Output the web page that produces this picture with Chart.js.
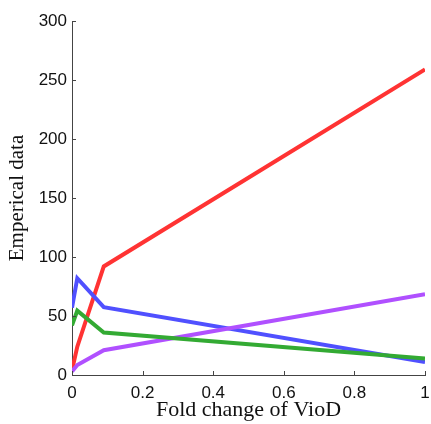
<!DOCTYPE html>
<html>
<head>
<meta charset="utf-8">
<script src="https://cdn.jsdelivr.net/npm/chart.js@4.4.0/dist/chart.umd.min.js"></script>
<style>
  html, body { margin: 0; padding: 0; background: #fff; }
  #wrap { width: 431px; height: 424px; }
</style>
</head>
<body>
<div id="wrap"><canvas id="myChart"></canvas></div>
<script>
// data
const foldChange = [0, 0.015, 0.09, 1];
const redVals = [4, 24, 92, 259];
const blueVals = [57, 82, 57.5, 11];
const greenVals = [42, 54.5, 36, 14];
const purpleVals = [3, 8.5, 21, 68.5];
const xTicks = [0, 0.2, 0.4, 0.6, 0.8, 1];
const yTicks = [0, 50, 100, 150, 200, 250, 300];

function pts(vals) {
  return foldChange.map((x, i) => ({ x: x, y: vals[i] }));
}

function series(vals, color) {
  return {
    data: pts(vals),
    borderColor: color,
    backgroundColor: color,
    borderWidth: 4,
    pointRadius: 0,
    tension: 0
  };
}

// small ticks pointing into the plot, like the original
const innerTicks = {
  id: 'innerTicks',
  afterDraw(chart) {
    const ctx = chart.ctx;
    const x = chart.scales.x, y = chart.scales.y;
    ctx.save();
    ctx.strokeStyle = '#444';
    ctx.lineWidth = 1;
    ctx.beginPath();
    xTicks.forEach(v => {
      const px = Math.round(x.getPixelForValue(v)) + 0.5;
      ctx.moveTo(px, y.bottom);
      ctx.lineTo(px, y.bottom - 4);
    });
    yTicks.forEach(v => {
      const py = Math.round(y.getPixelForValue(v)) + 0.5;
      ctx.moveTo(x.left, py);
      ctx.lineTo(x.left + 4, py);
    });
    ctx.stroke();
    ctx.restore();
  }
};

const config = {
  type: 'line',
  data: {
    datasets: [
      series(greenVals, '#33aa33'),
      series(purpleVals, '#b050ff'),
      series(blueVals, '#5050ff'),
      series(redVals, '#ff3333')
    ]
  },
  options: {
    responsive: false,
    animation: false,
    layout: { padding: { top: 21, right: 6, left: 0, bottom: 0 } },
    plugins: { legend: { display: false }, tooltip: { enabled: false } },
    scales: {
      x: {
        type: 'linear',
        min: 0,
        max: 1,
        afterBuildTicks: s => { s.ticks = xTicks.map(v => ({ value: v })); },
        afterFit: s => { s.height = 49; s.paddingLeft = 0; s.paddingRight = 0; },
        grid: { display: true, drawOnChartArea: false, drawTicks: false },
        border: { display: true, color: '#444', width: 1 },
        ticks: {
          padding: 8,
          color: '#111',
          font: { family: 'Liberation Sans', size: 17 },
          callback: v => String(v)
        },
        title: {
          display: true,
          text: 'Fold change of VioD',
          color: '#111',
          padding: { top: 0, bottom: 1 },
          font: { family: 'Liberation Serif', size: 22 }
        }
      },
      y: {
        min: 0,
        max: 300,
        afterBuildTicks: s => { s.ticks = yTicks.map(v => ({ value: v })); },
        afterFit: s => { s.width = 72; s.paddingTop = 0; s.paddingBottom = 0; },
        grid: { display: true, drawOnChartArea: false, drawTicks: false },
        border: { display: true, color: '#444', width: 1 },
        ticks: {
          padding: 5,
          color: '#111',
          font: { family: 'Liberation Sans', size: 17 }
        },
        title: {
          display: true,
          text: 'Emperical data',
          color: '#111',
          padding: { top: 5, bottom: 0 },
          font: { family: 'Liberation Serif', size: 21 }
        }
      }
    }
  },
  plugins: [innerTicks]
};

const canvas = document.getElementById('myChart');
canvas.width = 431;
canvas.height = 424;
const myChart = new Chart(canvas, config);
</script>
</body>
</html>
